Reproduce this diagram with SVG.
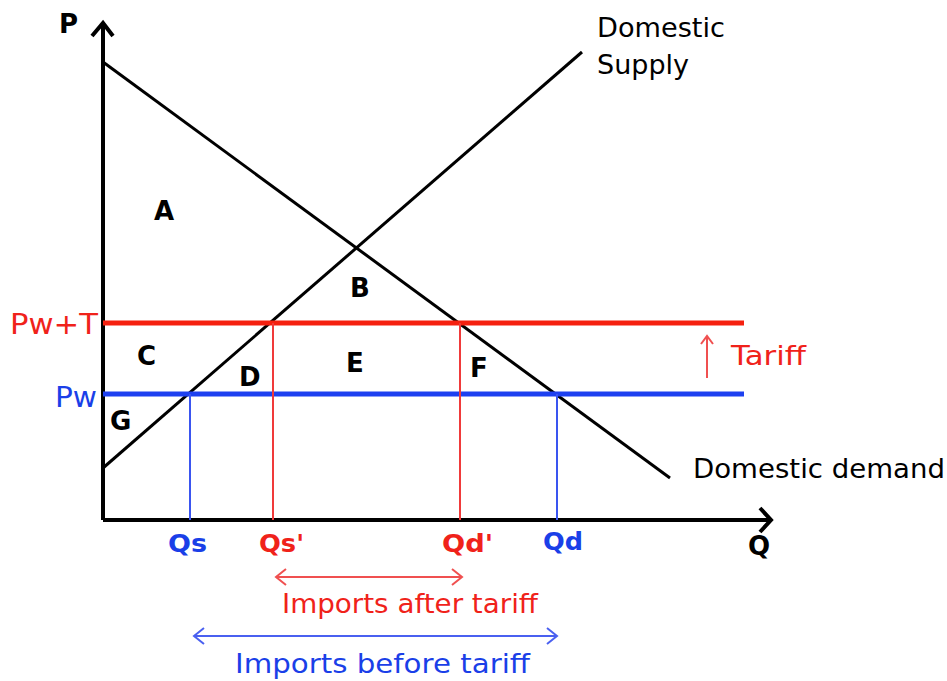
<svg xmlns="http://www.w3.org/2000/svg" width="947" height="681" viewBox="0 0 947 681">
<style>
text{font-family:"DejaVu Sans","Liberation Sans",sans-serif}
.b{font-weight:bold;font-size:26px;fill:#000}
.q{font-weight:bold;font-size:25px}
.lbl{font-size:27px;fill:#000}
.red{fill:#f0221a}
.blue{fill:#1a3fe8}
.ax{stroke:#000;stroke-width:4;fill:none}
.crv{stroke:#000;stroke-width:3;fill:none}
.vr{stroke:#f03a3a;stroke-width:2;fill:none}
.vb{stroke:#3a55f0;stroke-width:2;fill:none}
</style>
<rect width="947" height="681" fill="#fff"/>
<g id="axes">
<path class="ax" d="M103,520 V24"/>
<path class="ax" stroke-width="3" d="M92,36 L103,23 L113,36"/>
<path class="ax" d="M103,520 H770"/>
<path class="ax" stroke-width="3" d="M760,508 L771,520 L760,532"/>
<text class="b" x="59" y="33">P</text>
<text class="b" x="748" y="555">Q</text>
</g>
<g id="curves">
<path class="crv" d="M103,62 L670,478"/>
<path class="crv" d="M103,468 L582,52"/>
</g>
<g id="prices">
<path d="M103,323 H744" stroke="#f5200f" stroke-width="5"/>
<path d="M103,394 H744" stroke="#1d40f0" stroke-width="5"/>
<text class="red" x="10" y="334" font-size="28" textLength="88" lengthAdjust="spacingAndGlyphs">Pw+T</text>
<text class="blue" x="55" y="407" font-size="28" textLength="42" lengthAdjust="spacingAndGlyphs">Pw</text>
</g>
<g id="quantities">
<path class="vb" d="M190,394 V520"/>
<path class="vr" d="M273,323 V520"/>
<path class="vr" d="M460,323 V520"/>
<path class="vb" d="M557,394 V520"/>
<text class="blue q" x="168" y="552" textLength="39" lengthAdjust="spacingAndGlyphs">Qs</text>
<text class="red q" x="259" y="552" textLength="45" lengthAdjust="spacingAndGlyphs">Qs'</text>
<text class="red q" x="442" y="552" textLength="51" lengthAdjust="spacingAndGlyphs">Qd'</text>
<text class="blue q" x="543" y="550" textLength="40" lengthAdjust="spacingAndGlyphs">Qd</text>
</g>
<g id="areas">
<text class="b" x="154" y="220">A</text>
<text class="b" x="350" y="297">B</text>
<text class="b" x="137" y="365">C</text>
<text class="b" x="239" y="386">D</text>
<text class="b" x="346" y="372">E</text>
<text class="b" x="470" y="377">F</text>
<text class="b" x="110" y="430">G</text>
</g>
<g id="curve-labels">
<text class="lbl" x="597" y="37" textLength="128" lengthAdjust="spacingAndGlyphs">Domestic</text>
<text class="lbl" x="597" y="74" textLength="92" lengthAdjust="spacingAndGlyphs">Supply</text>
<text class="lbl" x="693" y="478" textLength="252" lengthAdjust="spacingAndGlyphs">Domestic demand</text>
</g>
<g id="tariff">
<path d="M707,378 V336 M701,344 L707,336 L713,344" stroke="#f05050" stroke-width="2" fill="none"/>
<text class="red" x="731" y="365" font-size="26" textLength="75" lengthAdjust="spacingAndGlyphs">Tariff</text>
</g>
<g id="imports">
<path d="M276,577 H462 M286,569 L276,577 L286,585 M452,569 L462,577 L452,585" stroke="#f05050" stroke-width="2" fill="none"/>
<text class="red" x="282" y="613" font-size="27" textLength="256" lengthAdjust="spacingAndGlyphs">Imports after tariff</text>
<path d="M194,636 H557 M204,628 L194,636 L204,644 M547,628 L557,636 L547,644" stroke="#4a60f0" stroke-width="2" fill="none"/>
<text class="blue" x="235" y="673" font-size="27" textLength="295" lengthAdjust="spacingAndGlyphs">Imports before tariff</text>
</g>
</svg>
